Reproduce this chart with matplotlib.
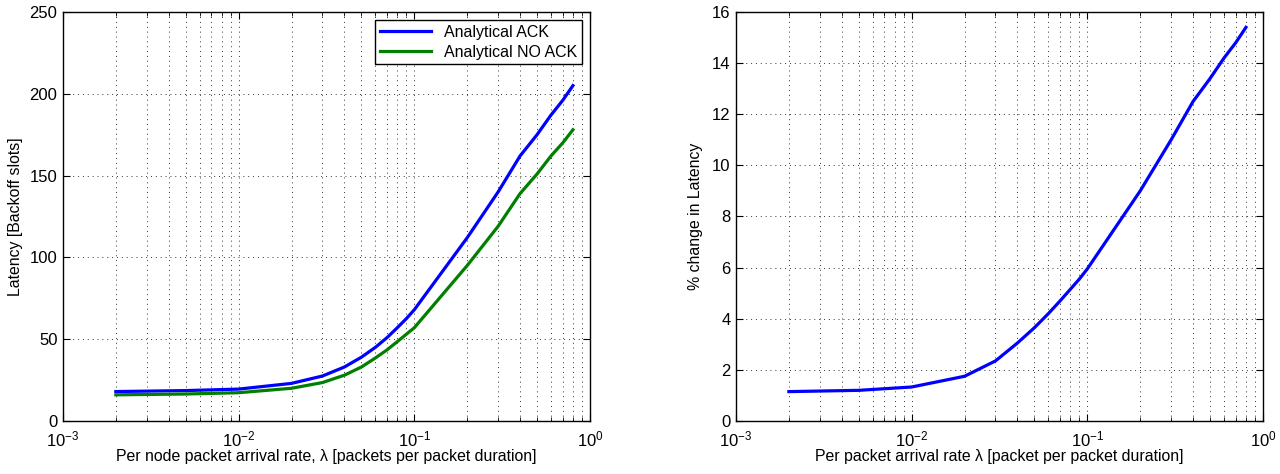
import matplotlib
matplotlib.use("Agg")
import matplotlib.pyplot as plt
from matplotlib.ticker import LogLocator, NullFormatter, MultipleLocator

plt.rcParams['font.family'] = ['Liberation Sans', 'DejaVu Sans']
plt.rcParams['mathtext.fontset'] = 'custom'
plt.rcParams['mathtext.rm'] = 'Liberation Sans'
plt.rcParams['mathtext.it'] = 'Liberation Sans:italic'
plt.rcParams['font.size'] = 11.4

# Data
rate = [0.002, 0.005, 0.01, 0.02, 0.03, 0.04, 0.05, 0.06, 0.07, 0.08, 0.09,
        0.1, 0.2, 0.3, 0.4, 0.5, 0.6, 0.7, 0.8]
latency_ack = [18, 18.6, 19.5, 23, 27.5, 33, 39, 45, 51, 57, 62.5,
               68, 112, 140, 162, 175, 187, 196, 205]
latency_noack = [16, 16.5, 17.3, 20, 23.5, 28, 33, 38.5, 43.5, 48.5, 53,
                 57, 95, 119, 139, 151, 162, 170, 178]
pct_change = [1.15, 1.2, 1.33, 1.75, 2.35, 3.05, 3.65, 4.2, 4.7, 5.15, 5.55,
              5.95, 9.0, 11.0, 12.5, 13.4, 14.2, 14.8, 15.4]

fig = plt.figure(figsize=(12.8, 4.74), dpi=100)
ax1 = fig.add_axes([0.0492, 0.1118, 0.4117, 0.8629])
ax2 = fig.add_axes([0.575, 0.1118, 0.4117, 0.8629])

def style(ax):
    ax.set_xscale('log')
    ax.set_xlim(1e-3, 1)
    ax.xaxis.set_major_locator(LogLocator(base=10, numticks=10))
    ax.xaxis.set_minor_locator(LogLocator(base=10, subs=range(2, 10), numticks=10))
    ax.xaxis.set_minor_formatter(NullFormatter())
    ax.tick_params(which='both', direction='in', top=True, right=True, labelsize=12)
    ax.tick_params(axis='x', which='major', pad=6)
    ax.tick_params(axis='y', which='major', pad=4)
    ax.tick_params(which='major', length=5)
    ax.tick_params(which='minor', length=3)
    ax.grid(True, which='major', axis='both', linestyle=(0, (1, 4)), color='black', linewidth=0.7, alpha=0.8)
    ax.grid(True, which='minor', axis='x', linestyle=(0, (1, 4)), color='black', linewidth=0.7, alpha=0.8)
    for s in ax.spines.values():
        s.set_linewidth(1.0)

ax1.plot(rate, latency_ack, color='#0000ff', lw=2.3, label='Analytical ACK')
ax1.plot(rate, latency_noack, color='#007f00', lw=2.3, label='Analytical NO ACK')
style(ax1)
ax1.set_ylim(0, 250)
ax1.yaxis.set_major_locator(MultipleLocator(50))
ax1.set_xlabel('Per node packet arrival rate, λ [packets per packet duration]', labelpad=0)
ax1.set_ylabel('Latency [Backoff slots]', labelpad=5)
leg = ax1.legend(loc='upper right', fancybox=False, edgecolor='black', framealpha=1,
                 borderaxespad=0.5, handlelength=3.2, fontsize=11.5,
                 borderpad=0.3, labelspacing=0.3)
leg.get_frame().set_linewidth(1.0)

ax2.plot(rate, pct_change, color='#0000ff', lw=2.3)
style(ax2)
ax2.set_ylim(0, 16)
ax2.yaxis.set_major_locator(MultipleLocator(2))
ax2.set_xlabel('Per packet arrival rate λ [packet per packet duration]', labelpad=0)
ax2.set_ylabel('% change in Latency', labelpad=6)

fig.savefig('out.png', dpi=100)
